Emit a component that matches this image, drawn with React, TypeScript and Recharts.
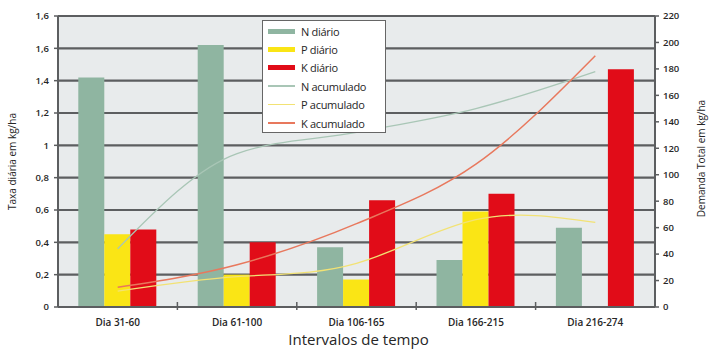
import React from 'react';
import { ComposedChart, Bar, Line, XAxis, YAxis, CartesianGrid } from 'recharts';

// Intervals of the crop cycle
const categories = ['Dia 31-60', 'Dia 61-100', 'Dia 106-165', 'Dia 166-215', 'Dia 216-274'];

// Daily uptake rate (kg/ha per day)
const nDaily = [1.42, 1.62, 0.37, 0.29, 0.49];
const pDaily = [0.45, 0.2, 0.17, 0.59, 0];
const kDaily = [0.48, 0.4, 0.66, 0.7, 1.47];

// Accumulated demand (kg/ha)
const nAccum = [44, 116, 132, 150, 178];
const pAccum = [12, 23, 33, 66, 64];
const kAccum = [15, 32, 63, 108, 190];

const leftTicks = [0, 0.2, 0.4, 0.6, 0.8, 1, 1.2, 1.4, 1.6, 1.8];
const leftTickLabels = ['0', '0,2', '0,4', '0,6', '0,8', '1', '1,2', '1,4', '1,6', '1,6'];
const rightTicks = [0, 20, 40, 60, 80, 100, 120, 140, 160, 180, 200, 220];

const seriesNames = ['N diário', 'P diário', 'K diário', 'N acumulado', 'P acumulado', 'K acumulado'];

const data = categories.map((c, i) => ({
  name: c,
  nDaily: nDaily[i],
  pDaily: pDaily[i],
  kDaily: kDaily[i],
  nAccum: nAccum[i],
  pAccum: pAccum[i],
  kAccum: kAccum[i],
}));

const W = 709;
const H = 349;
const LEFT_W = 58;
const RIGHT_W = 54;
const TOP = 16;
const X_AXIS_H = 30;
const BOTTOM = 12;
const FONT = '"Open Sans", "DejaVu Sans", sans-serif';
const INK = '#262626';
const GRID = '#5c5e60';

const GREEN = '#8fb5a1';
const YELLOW = '#fae515';
const RED = '#e10c18';
const N_LINE = '#a9c6b6';
const P_LINE = '#f2e274';
const K_LINE = '#e8785d';

const legendItems = [
  { label: seriesNames[0], color: GREEN, bar: true },
  { label: seriesNames[1], color: YELLOW, bar: true },
  { label: seriesNames[2], color: RED, bar: true },
  { label: seriesNames[3], color: N_LINE, bar: false },
  { label: seriesNames[4], color: P_LINE, bar: false },
  { label: seriesNames[5], color: K_LINE, bar: false },
];

const halfBand = (W - LEFT_W - RIGHT_W) / categories.length / 2;

const CategoryTick = (props: any) => {
  const { x, y, payload, index } = props;
  return (
    <g>
      {index > 0 && (
        <line x1={x - halfBand} x2={x - halfBand} y1={y - 5} y2={y + 3} stroke={GRID} strokeWidth={1.5} />
      )}
      <text x={x} y={y + 19} textAnchor="middle" fontSize={10} fontWeight={600} fill={INK} fontFamily={FONT}>
        {payload.value}
      </text>
    </g>
  );
};

const LeftLabel = (props: any) => {
  const vb = props.viewBox;
  const cx = 12;
  const cy = vb.y + vb.height / 2;
  return (
    <text x={cx} y={cy} transform={`rotate(-90, ${cx}, ${cy})`} textAnchor="middle" dominantBaseline="central" fontSize={10} fontWeight={500} fill={INK} fontFamily={FONT}>
      Taxa diária em kg/ha
    </text>
  );
};

const RightLabel = (props: any) => {
  const vb = props.viewBox;
  const cx = 701;
  const cy = vb.y + vb.height / 2 - 3;
  return (
    <text x={cx} y={cy} transform={`rotate(-90, ${cx}, ${cy})`} textAnchor="middle" dominantBaseline="central" fontSize={10} fontWeight={500} fill={INK} fontFamily={FONT}>
      Demanda Total em kg/ha
    </text>
  );
};

const BottomLabel = (props: any) => {
  const vb = props.viewBox;
  const cx = vb.x + vb.width / 2 + 2;
  return (
    <text x={cx} y={345} textAnchor="middle" fontSize={15} fill={INK} fontFamily={FONT}>
      Intervalos de tempo
    </text>
  );
};

export default function App() {
  return (
    <div style={{ position: 'absolute', left: 0, top: 0, width: W, height: H, background: '#fff' }}>
      <ComposedChart
        width={W}
        height={H}
        data={data}
        margin={{ top: TOP, right: 0, left: 0, bottom: BOTTOM }}
        barCategoryGap="17%"
        barGap={0}
      >
        <CartesianGrid vertical={false} stroke={GRID} strokeWidth={2.2} fill="#e8ebec" yAxisId="left" />
        <XAxis
          dataKey="name"
          height={X_AXIS_H}
          tickSize={0}
          tickMargin={0}
          tick={<CategoryTick />}
          axisLine={{ stroke: GRID, strokeWidth: 2 }}
          interval={0}
          label={<BottomLabel />}
        />
        <YAxis
          yAxisId="left"
          orientation="left"
          width={LEFT_W}
          domain={[0, 1.8]}
          ticks={leftTicks}
          interval={0}
          tickFormatter={(_v: number, i: number) => leftTickLabels[i]}
          tick={{ fontSize: 9.5, fill: INK, fontFamily: FONT, fontWeight: 600 }}
          tickSize={4}
          tickMargin={5}
          tickLine={{ stroke: GRID, strokeWidth: 1.5 }}
          axisLine={{ stroke: GRID, strokeWidth: 2 }}
          label={<LeftLabel />}
        />
        <YAxis
          yAxisId="right"
          orientation="right"
          width={RIGHT_W}
          domain={[0, 220]}
          ticks={rightTicks}
          interval={0}
          tick={{ fontSize: 9.5, fill: INK, fontFamily: FONT, fontWeight: 600 }}
          tickSize={4}
          tickMargin={4}
          tickLine={{ stroke: GRID, strokeWidth: 1.5 }}
          axisLine={{ stroke: GRID, strokeWidth: 2 }}
          label={<RightLabel />}
        />
        <Bar yAxisId="left" dataKey="nDaily" name={seriesNames[0]} fill={GREEN} isAnimationActive={false} />
        <Bar yAxisId="left" dataKey="pDaily" name={seriesNames[1]} fill={YELLOW} isAnimationActive={false} />
        <Bar yAxisId="left" dataKey="kDaily" name={seriesNames[2]} fill={RED} isAnimationActive={false} />
        <Line yAxisId="right" type="monotone" dataKey="nAccum" name={seriesNames[3]} stroke={N_LINE} strokeWidth={1.3} dot={false} isAnimationActive={false} />
        <Line yAxisId="right" type="natural" dataKey="pAccum" name={seriesNames[4]} stroke={P_LINE} strokeWidth={1.3} dot={false} isAnimationActive={false} />
        <Line yAxisId="right" type="monotone" dataKey="kAccum" name={seriesNames[5]} stroke={K_LINE} strokeWidth={1.5} dot={false} isAnimationActive={false} />
      </ComposedChart>
      <div
        style={{
          position: 'absolute',
          left: 262,
          top: 20,
          width: 122,
          height: 111,
          background: '#fff',
          border: '1.5px solid #666',
          fontFamily: FONT,
          fontSize: 11,
          fontWeight: 500,
          color: INK,
        }}
      >
        {legendItems.map((it, i) => (
          <div
            key={it.label}
            style={{ position: 'absolute', left: 5, top: 1 + i * 18.4, height: 18, display: 'flex', alignItems: 'center' }}
          >
            <div style={{ width: 27, height: it.bar ? 5 : 1.5, background: it.color }} />
            <span style={{ marginLeft: 6, whiteSpace: 'nowrap', letterSpacing: -0.3 }}>{it.label}</span>
          </div>
        ))}
      </div>
    </div>
  );
}
